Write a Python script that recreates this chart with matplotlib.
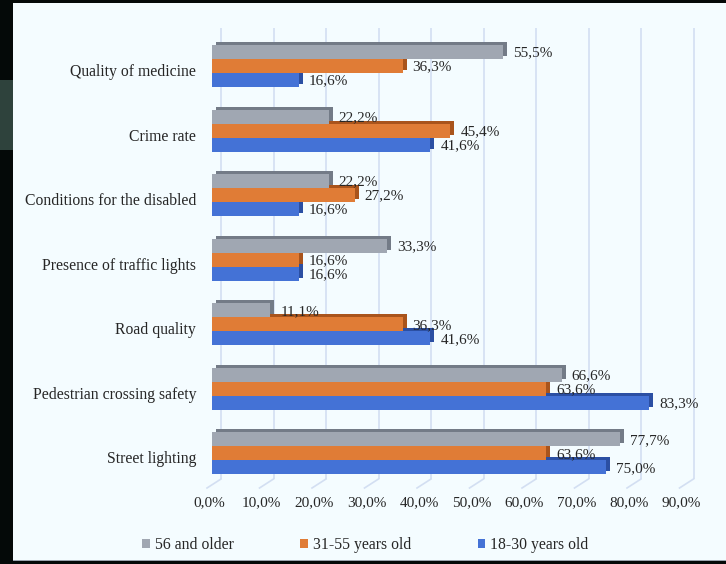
import matplotlib
matplotlib.use('Agg')
import matplotlib.pyplot as plt
from matplotlib.patches import Rectangle, Patch
from matplotlib.transforms import offset_copy, blended_transform_factory, ScaledTranslation
import numpy as np

categories = ["Quality of medicine", "Crime rate", "Conditions for the disabled",
              "Presence of traffic lights", "Road quality",
              "Pedestrian crossing safety", "Street lighting"]
older = [55.5, 22.2, 22.2, 33.3, 11.1, 66.6, 77.7]
middle = [36.3, 45.4, 27.2, 16.6, 36.3, 63.6, 63.6]
young = [16.6, 41.6, 16.6, 16.6, 41.6, 83.3, 75.0]
series_names = ["56 and older", "31-55 years old", "18-30 years old"]
xticks = [0, 10, 20, 30, 40, 50, 60, 70, 80, 90]
xtick_labels = [f"{t:.1f}%".replace('.', ',') for t in xticks]

front_colors = ["#A0A7B2", "#E07C36", "#4472D6"]
side_colors = ["#737B87", "#A9541C", "#2B4FA3"]

plt.rcParams['font.family'] = ['Liberation Serif', 'DejaVu Serif']
FS = 11.3
TXT = '#262626'

W, H = 726, 564
fig = plt.figure(figsize=(W / 100, H / 100), dpi=100, facecolor='#040908')

# light panel
fig.add_artist(Rectangle((13 / W, 3 / H), 1 - 13 / W, (561 - 3) / H, transform=fig.transFigure,
                         facecolor='#F4FCFF', edgecolor='none', zorder=-10))
fig.add_artist(Rectangle((13 / W, 3 / H), 1 - 13 / W, 1.5 / H, transform=fig.transFigure,
                         facecolor='#9AA4AE', edgecolor='none', zorder=-9))
fig.add_artist(Rectangle((0, 1 - 150 / H), 13 / W, 70 / H, transform=fig.transFigure,
                         facecolor='#2E423C', edgecolor='none', zorder=-10))

px_per_unit = 5.25
ax = fig.add_axes([212 / W, 1 - 479 / H, 90 * px_per_unit / W, 451 / H])
ax.set_facecolor('none')
ax.set_xlim(0, 90)
ax.set_ylim(-0.395, 6.588)
for s in ax.spines.values():
    s.set_visible(False)

pos = np.arange(len(categories))[::-1]
h = 14 / 64.6

# back-wall gridlines and floor diagonals
blend = blended_transform_factory(ax.transData, ax.transAxes)
grid_tr = offset_copy(blend, fig=fig, x=9, y=0, units='dots')
ax.vlines(xticks, 0, 1, transform=grid_tr, colors='#D3DFF2', lw=1.2, zorder=0, clip_on=False)
for t in xticks:
    ax.plot([t + 9 / px_per_unit, t - 5 / px_per_unit], [0, -9 / 451], transform=blend,
            color='#D3DFF2', lw=1.2, zorder=0, clip_on=False)

series = [older, middle, young]
offsets = [h, 0, -h]
shadow_tr = offset_copy(ax.transData, fig=fig, x=4, y=3, units='dots')
for vals, off, sc in zip(series, offsets, side_colors):
    ax.barh(pos + off, vals, height=h, color=sc, transform=shadow_tr, zorder=2, clip_on=False)
for vals, off, fc in zip(series, offsets, front_colors):
    ax.barh(pos + off, vals, height=h, color=fc, zorder=3, clip_on=False)

label_tr = offset_copy(ax.transData, fig=fig, x=10, y=-1, units='dots')
for vals, off in zip(series, offsets):
    for p, v in zip(pos, vals):
        ax.text(v, p + off, f"{v:.1f}%".replace('.', ','), transform=label_tr,
                ha='left', va='center', fontsize=FS - 0.3, color=TXT, zorder=5)

ax.set_yticks(pos)
ax.set_yticklabels(categories, fontsize=FS, color=TXT)
ax.set_xticks(xticks)
ax.set_xticklabels(xtick_labels, fontsize=FS - 0.3, color=TXT)
ax.tick_params(axis='y', length=0, pad=11.5)
ax.tick_params(axis='x', length=0, pad=12.5)
for lab in ax.get_yticklabels():
    lab.set_transform(lab.get_transform() + ScaledTranslation(0, -4 / 100, fig.dpi_scale_trans))
for lab in ax.get_xticklabels():
    lab.set_transform(lab.get_transform() + ScaledTranslation(-3 / 100, 0, fig.dpi_scale_trans))

handles = [Patch(facecolor=c, edgecolor='none') for c in front_colors]
fig.legend(handles, series_names, loc='center left', bbox_to_anchor=(142 / W, 1 - 545 / H),
           ncol=3, frameon=False, fontsize=FS, handlelength=0.5, handleheight=0.5,
           handletextpad=0.3, columnspacing=4.25, borderaxespad=0, borderpad=0,
           labelcolor=TXT)

fig.savefig('out.png', dpi=100, facecolor=fig.get_facecolor())
